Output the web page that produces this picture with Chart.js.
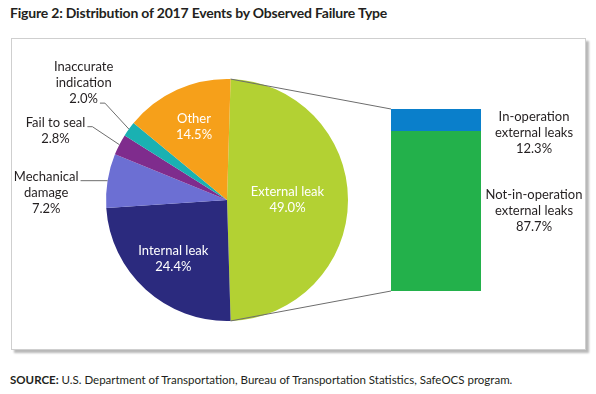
<!DOCTYPE html>
<html>
<head>
<meta charset="utf-8">
<script src="https://cdn.jsdelivr.net/npm/chart.js@4"></script>
<style>
  body { margin: 0; width: 596px; height: 394px; background: #fff; position: relative; overflow: hidden; font-family: Lato, sans-serif; color: #231f20; }
  #title { position: absolute; left: 10px; top: 4px; font-size: 14px; letter-spacing: -0.2px; font-weight: bold; white-space: nowrap; }
  #frame { position: absolute; left: 11px; top: 38px; width: 573px; height: 310px; border: 1px solid #cfcfcf; box-shadow: 3px 3px 2px rgba(0,0,0,0.28); }
  #source { position: absolute; left: 10px; top: 373px; font-size: 11.5px; white-space: nowrap; }
  canvas { position: absolute; left: 0; top: 0; }
</style>
</head>
<body>
<div id="title">Figure 2: Distribution of 2017 Events by Observed Failure Type</div>
<div id="frame"></div>
<div id="source"><b>SOURCE:</b> U.S. Department of Transportation, Bureau of Transportation Statistics, SafeOCS program.</div>
<canvas id="pieChart" width="596" height="394"></canvas>
<canvas id="barChart" width="596" height="394"></canvas>
<script>
const failureTypes = [['External leak'], ['Internal leak'], ['Mechanical', 'damage'], ['Fail to seal'], ['Inaccurate', 'indication'], ['Other']];
const failureShares = [49.0, 24.4, 7.2, 2.8, 2.0, 14.5];
const failureColors = ['#b3d133', '#2b2a7e', '#6c6fd3', '#7f2c8d', '#1ab1b2', '#f6a01a'];

const leakTypes = [['Not-in-operation', 'external leaks'], ['In-operation', 'external leaks']];
const leakShares = [87.7, 12.3];
const leakColors = ['#23b14b', '#0a7fcb'];

const FONT = '13px Lato, sans-serif';
const LINE = 16;
const total = failureShares.reduce((a, b) => a + b, 0);

// leader lines for the small slices: elbow offset from the rim, tail length, line of text the leader touches
const leaders = {
    2: { dx: 0, dy: 0, tail: 27, anchor: 0 },
    3: { dx: -27, dy: -18, tail: 5, anchor: 0 },
    4: { dx: -24, dy: -26, tail: 5, anchor: 2 }
};

const pieLabels = {
    id: 'pieLabels',
    afterDatasetsDraw(chart) {
        const ctx = chart.ctx;
        ctx.save();
        ctx.font = FONT;
        chart.getDatasetMeta(0).data.forEach((arc, i) => {
            const { x, y, startAngle, endAngle, outerRadius } = arc.getProps(['x', 'y', 'startAngle', 'endAngle', 'outerRadius'], true);
            const mid = (startAngle + endAngle) / 2;
            const lines = [...failureTypes[i], failureShares[i].toFixed(1) + '%'];
            const ld = leaders[i];
            if (!ld) {
                const f = i === 0 ? 0.5 : 0.66;
                const cx = x + Math.cos(mid) * outerRadius * f;
                const cy = y + Math.sin(mid) * outerRadius * f;
                ctx.fillStyle = '#fff';
                ctx.textAlign = 'center';
                ctx.textBaseline = 'middle';
                lines.forEach((t, k) => ctx.fillText(t, cx, cy + (k - (lines.length - 1) / 2) * LINE));
                return;
            }
            const ex = x + Math.cos(mid) * outerRadius;
            const ey = y + Math.sin(mid) * outerRadius;
            const bx = ex + ld.dx, by = ey + ld.dy;
            const tx = bx - ld.tail;
            ctx.strokeStyle = '#6d6d6d';
            ctx.lineWidth = 1;
            ctx.beginPath();
            ctx.moveTo(ex, ey);
            ctx.lineTo(bx, by);
            ctx.lineTo(tx, by);
            ctx.stroke();
            const cx = tx - ctx.measureText(lines[ld.anchor]).width / 2 - 2;
            ctx.fillStyle = '#231f20';
            ctx.textAlign = 'center';
            ctx.textBaseline = 'alphabetic';
            lines.forEach((t, k) => ctx.fillText(t, cx, by + (k - ld.anchor) * LINE));
        });
        ctx.restore();
    }
};

const pieChart = new Chart(document.getElementById('pieChart'), {
    type: 'pie',
    data: {
        labels: failureTypes,
        datasets: [{
            data: failureShares,
            backgroundColor: failureColors,
            borderWidth: 0
        }]
    },
    options: {
        responsive: false,
        animation: false,
        rotation: 90 - failureShares[0] / total * 180,
        layout: { padding: { left: 106, right: 248, top: 79, bottom: 73 } },
        plugins: { legend: { display: false }, tooltip: { enabled: false } }
    },
    plugins: [pieLabels]
});

const barLabels = {
    id: 'barLabels',
    afterDraw(chart) {
        const ctx = chart.ctx;
        ctx.save();
        // connectors from the external leak slice to the bar
        const arc = pieChart.getDatasetMeta(0).data[0];
        const { x, y, startAngle, endAngle, outerRadius } = arc.getProps(['x', 'y', 'startAngle', 'endAngle', 'outerRadius'], true);
        const area = chart.chartArea;
        const top = chart.scales.y.getPixelForValue(100);
        const bottom = chart.scales.y.getPixelForValue(0);
        ctx.strokeStyle = '#6d6d6d';
        ctx.lineWidth = 1;
        ctx.beginPath();
        ctx.moveTo(x + Math.cos(startAngle) * outerRadius, y + Math.sin(startAngle) * outerRadius);
        ctx.lineTo(area.left, top);
        ctx.moveTo(x + Math.cos(endAngle) * outerRadius, y + Math.sin(endAngle) * outerRadius);
        ctx.lineTo(area.left, bottom);
        ctx.stroke();

        ctx.font = FONT;
        ctx.fillStyle = '#231f20';
        ctx.textAlign = 'center';
        ctx.textBaseline = 'middle';
        leakTypes.forEach((name, i) => {
            const bar = chart.getDatasetMeta(i).data[0];
            const lines = [...name, leakShares[i].toFixed(1) + '%'];
            const h = lines.length * LINE;
            const segTop = Math.min(bar.y, bar.base);
            const segMid = (bar.y + bar.base) / 2;
            const cy = Math.max(segMid, segTop + h / 2);
            const cx = bar.x + bar.width / 2 + 53;
            lines.forEach((t, k) => ctx.fillText(t, cx, cy + (k - (lines.length - 1) / 2) * LINE));
        });
        ctx.restore();
    }
};

new Chart(document.getElementById('barChart'), {
    type: 'bar',
    data: {
        labels: ['External leak'],
        datasets: leakTypes.map((name, i) => ({
            label: name.join(' '),
            data: [leakShares[i]],
            backgroundColor: leakColors[i],
            borderWidth: 0,
            categoryPercentage: 1,
            barPercentage: 1
        }))
    },
    options: {
        responsive: false,
        animation: false,
        layout: { padding: { left: 391, right: 115, top: 109, bottom: 103 } },
        scales: {
            x: { stacked: true, display: false },
            y: { stacked: true, display: false, min: 0, max: 100 }
        },
        plugins: { legend: { display: false }, tooltip: { enabled: false } }
    },
    plugins: [barLabels]
});
</script>
</body>
</html>
